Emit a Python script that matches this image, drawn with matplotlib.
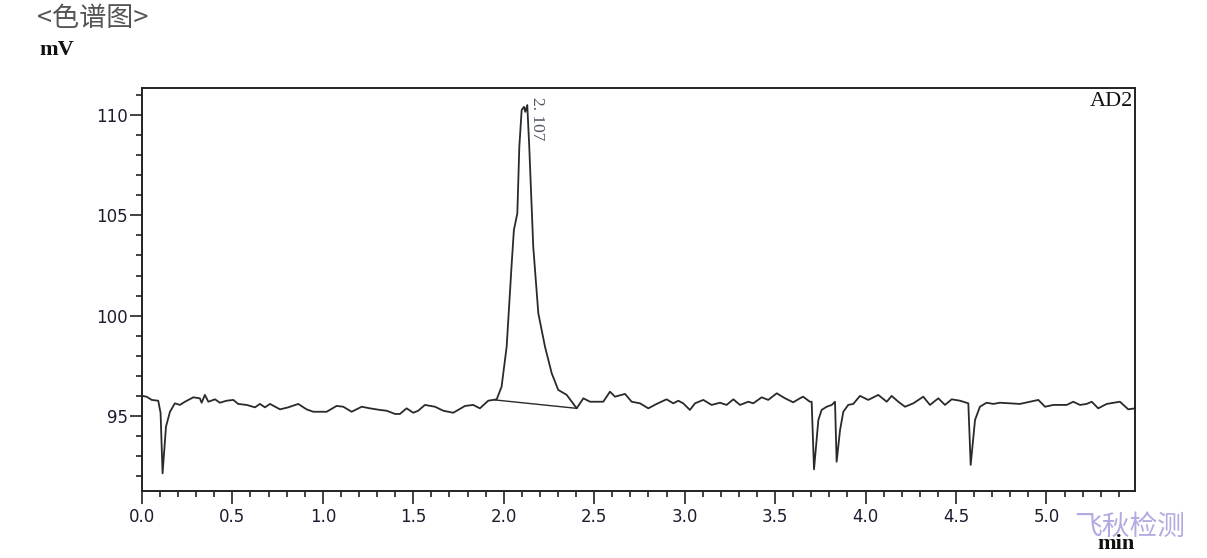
import numpy as np
import matplotlib.pyplot as plt
from matplotlib.ticker import MultipleLocator

# chromatogram trace (min, mV)
time_min = [0.000, 0.026, 0.054, 0.090, 0.103, 0.114, 0.133, 0.155, 0.182, 0.210,
            0.238, 0.284, 0.320, 0.330, 0.348, 0.367, 0.404, 0.431, 0.468, 0.505,
            0.532, 0.579, 0.625, 0.652, 0.680, 0.708, 0.763, 0.809, 0.864, 0.910,
            0.947, 0.984, 1.021, 1.076, 1.113, 1.159, 1.215, 1.260, 1.316, 1.353,
            1.399, 1.426, 1.463, 1.500, 1.527, 1.564, 1.620, 1.666, 1.721, 1.786,
            1.831, 1.868, 1.914, 1.961, 1.988, 2.016, 2.044, 2.056, 2.075, 2.086,
            2.099, 2.112, 2.119, 2.130, 2.141, 2.163, 2.191, 2.228, 2.265, 2.301,
            2.348, 2.403, 2.440, 2.477, 2.550, 2.587, 2.615, 2.670, 2.707, 2.753,
            2.799, 2.845, 2.900, 2.937, 2.965, 2.992, 3.029, 3.057, 3.103, 3.149,
            3.195, 3.232, 3.269, 3.306, 3.352, 3.379, 3.426, 3.462, 3.509, 3.555,
            3.600, 3.637, 3.655, 3.692, 3.702, 3.715, 3.739, 3.757, 3.785, 3.813,
            3.831, 3.840, 3.859, 3.877, 3.904, 3.932, 3.969, 4.015, 4.070, 4.117,
            4.144, 4.181, 4.218, 4.264, 4.319, 4.356, 4.402, 4.439, 4.476, 4.522,
            4.568, 4.581, 4.605, 4.632, 4.669, 4.706, 4.743, 4.798, 4.853, 4.909,
            4.955, 4.992, 5.038, 5.112, 5.148, 5.185, 5.222, 5.250, 5.286, 5.333,
            5.406, 5.452, 5.489]
signal_mv = [96.00, 95.96, 95.80, 95.76, 95.15, 92.14, 94.47, 95.21, 95.63, 95.55,
             95.71, 95.93, 95.88, 95.66, 96.05, 95.71, 95.83, 95.66, 95.76, 95.80,
             95.60, 95.55, 95.43, 95.60, 95.43, 95.60, 95.33, 95.43, 95.60, 95.33,
             95.21, 95.21, 95.21, 95.50, 95.46, 95.21, 95.46, 95.38, 95.30, 95.26,
             95.10, 95.10, 95.38, 95.16, 95.26, 95.55, 95.46, 95.26, 95.16, 95.50,
             95.55, 95.38, 95.76, 95.83, 96.46, 98.45, 102.61, 104.27, 105.10, 108.42,
             110.25, 110.41, 110.16, 110.50, 108.42, 103.44, 100.12, 98.45, 97.13, 96.30,
             96.05, 95.38, 95.88, 95.71, 95.71, 96.21, 95.96, 96.10, 95.71, 95.63,
             95.38, 95.60, 95.83, 95.63, 95.76, 95.63, 95.30, 95.63, 95.80, 95.55,
             95.66, 95.55, 95.83, 95.55, 95.71, 95.63, 95.93, 95.80, 96.13, 95.88,
             95.68, 95.88, 95.96, 95.71, 95.71, 92.34, 94.80, 95.30, 95.46, 95.55,
             95.71, 92.72, 94.30, 95.21, 95.55, 95.60, 96.00, 95.80, 96.05, 95.71,
             96.00, 95.71, 95.46, 95.63, 95.96, 95.55, 95.88, 95.55, 95.83, 95.76,
             95.63, 92.56, 94.80, 95.46, 95.66, 95.60, 95.66, 95.63, 95.60, 95.71,
             95.80, 95.46, 95.55, 95.55, 95.71, 95.55, 95.60, 95.71, 95.38, 95.60,
             95.71, 95.33, 95.38]

# integration baseline of the peak
base_t = [1.950, 2.403]
base_v = [95.80, 95.38]
peak_time = 2.107
peak_top = 110.50
peak_label = "2. 107"

fig = plt.figure(figsize=(12.07, 5.58), dpi=100)
ax = fig.add_axes([0.1176, 0.1201, 0.8227, 0.7222])

ax.plot(time_min, signal_mv, c='#2a2a2a', lw=1.3)
ax.plot(base_t, base_v, c='#2a2a2a', lw=1.0)

ax.set_xlim(0.0, 5.489)
ax.set_ylim(91.26, 111.35)
ax.xaxis.set_major_locator(MultipleLocator(0.5))
ax.xaxis.set_minor_locator(MultipleLocator(0.1))
ax.yaxis.set_major_locator(MultipleLocator(5))
ax.yaxis.set_minor_locator(MultipleLocator(1))
ax.xaxis.set_major_formatter(plt.FormatStrFormatter('%.1f'))
ax.yaxis.set_major_formatter(plt.FormatStrFormatter('%d'))

ax.tick_params(which='major', direction='out', length=9, width=1.2,
               labelsize=12, labelcolor='#1c1c2e', color='#222222')
ax.tick_params(which='minor', direction='out', length=4.5, width=1.2, color='#222222')
ax.tick_params(axis='y', which='major', pad=1)
ax.tick_params(axis='x', which='major', pad=3)
for s in ax.spines.values():
    s.set_linewidth(1.4)
    s.set_color('#222222')

ax.annotate(peak_label, xy=(peak_time, peak_top), xytext=(10, 6),
            textcoords='offset points', rotation=-90, ha='center', va='top',
            fontsize=12.5, family='Liberation Serif', color='#4f5566')

ax.text(0.998, 0.99, "AD2", transform=ax.transAxes, ha='right', va='top',
        fontsize=16, family='Liberation Serif', color='#111111')

fig.text(0.031, 0.967, "<色谱图>", ha='left', va='center', fontsize=19.5,
         family=['Noto Sans CJK SC', 'DejaVu Sans'], color='#555555')
fig.text(0.033, 0.901, "mV", ha='left', va='baseline', fontsize=16,
         family='Liberation Serif', fontweight='bold', color='#111111')
fig.text(0.925, 0.025, "min", ha='center', va='center', fontsize=16,
         family='Liberation Serif', fontweight='bold', color='#111111')
fig.text(0.936, 0.055, "飞秋检测", ha='center', va='center', fontsize=20,
         family=['Noto Sans CJK SC', 'DejaVu Sans'], color='#b2abe2',
         fontweight='light')

plt.savefig("out.png", dpi=100)
